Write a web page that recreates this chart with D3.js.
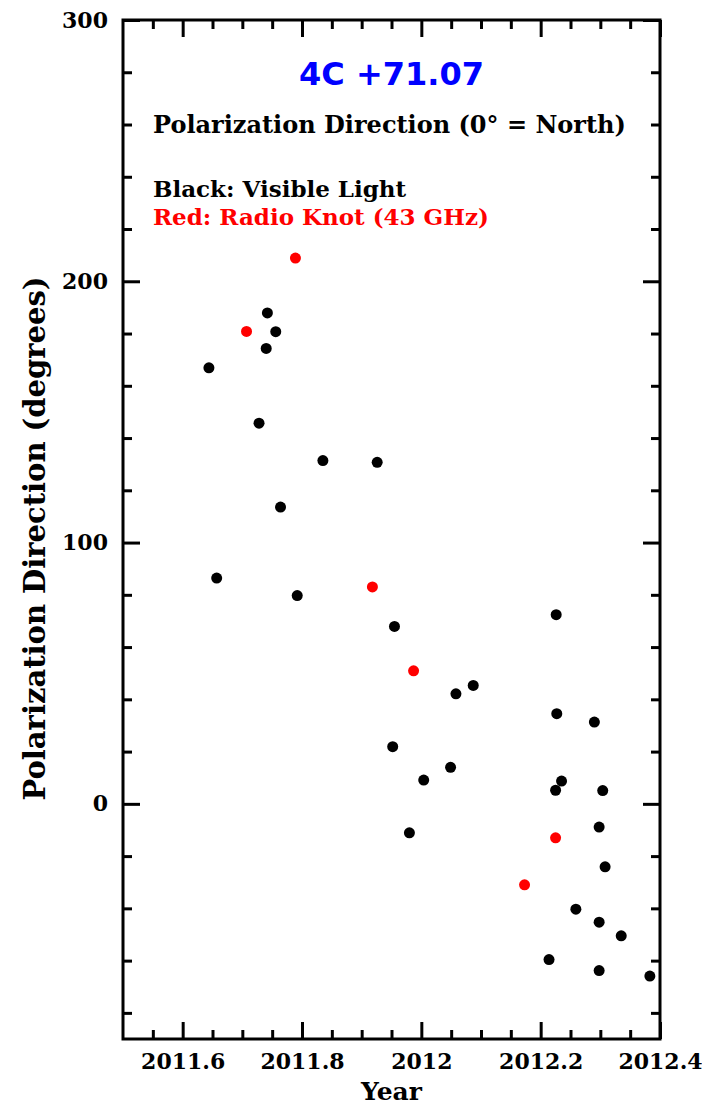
<!DOCTYPE html>
<html>
<meta charset="utf-8">
<style>
body {
	margin: 0;
	background: white;
}

.frame {
	fill: none;
	stroke: black;
	stroke-width: 3;
}

.axis path {
	display: none;
}

.axis line {
	stroke: black;
	stroke-width: 3;
}

.axis text {
	font: bold 22px "DejaVu Serif", serif;
	fill: black;
}

.label {
	font-family: "DejaVu Serif", serif;
	font-weight: bold;
}
</style>

<body>
<svg id="chart" width="702" height="1107"></svg>

<script src="https://d3js.org/d3.v7.min.js"></script>

<script>
// optical (black) points
var visibleYear = [2011.644, 2011.657, 2011.728, 2011.740, 2011.742, 2011.756, 2011.764, 2011.792,
	2011.835, 2011.926, 2011.952, 2011.955, 2011.980, 2012.004, 2012.049, 2012.058, 2012.087,
	2012.214, 2012.225, 2012.226, 2012.227, 2012.235, 2012.259, 2012.290, 2012.298, 2012.298,
	2012.298, 2012.304, 2012.308, 2012.335, 2012.383];
var visibleAngle = [166.9, 86.4, 145.7, 174.3, 187.9, 180.7, 113.6, 79.7,
	131.4, 130.7, 21.9, 67.9, -11.1, 9.1, 14.0, 42.1, 45.3,
	-59.6, 5.2, 72.4, 34.5, 8.7, -40.3, 31.3, -8.9, -45.3,
	-63.8, 5.1, -24.1, -50.5, -65.9];

// radio knot (red) points
var radioYear = [2011.707, 2011.789, 2011.918, 2011.987, 2012.173, 2012.225];
var radioAngle = [180.8, 208.9, 83.0, 50.9, -31.0, -13.0];

var xMajor = [2011.6, 2011.8, 2012, 2012.2, 2012.4];
var yMajor = [0, 100, 200, 300];

var pLeft = 123, pRight = 660, pTop = 20, pBottom = 1039;

var svg = d3.select("#chart");

var x = d3.scaleLinear()
	.domain([2011.5, 2012.4])
	.range([pLeft, pRight]);

var y = d3.scaleLinear()
	.domain([-90, 300])
	.range([pBottom, pTop]);

var xMinor = d3.range(2011.55, 2012.4, 0.05).filter(function(d) {
	return xMajor.every(function(m) { return Math.abs(m - d) > 1e-6; });
});
var yMinor = d3.range(-80, 300, 20).filter(function(d) { return d % 100 != 0; });

// minor ticks on all four sides
svg.append("g").attr("class", "axis")
	.attr("transform", "translate(0," + pBottom + ")")
	.call(d3.axisBottom(x).tickValues(xMinor).tickSize(-9).tickFormat(""));
svg.append("g").attr("class", "axis")
	.attr("transform", "translate(0," + pTop + ")")
	.call(d3.axisTop(x).tickValues(xMinor).tickSize(-9).tickFormat(""));
svg.append("g").attr("class", "axis")
	.attr("transform", "translate(" + pLeft + ",0)")
	.call(d3.axisLeft(y).tickValues(yMinor).tickSize(-9).tickFormat(""));
svg.append("g").attr("class", "axis")
	.attr("transform", "translate(" + pRight + ",0)")
	.call(d3.axisRight(y).tickValues(yMinor).tickSize(-9).tickFormat(""));

// major ticks with labels
svg.append("g").attr("class", "axis")
	.attr("transform", "translate(0," + pBottom + ")")
	.call(d3.axisBottom(x).tickValues(xMajor).tickSize(-17).tickPadding(14)
		.tickFormat(function(d) { return d3.format("")(+d.toFixed(1)); }));
svg.append("g").attr("class", "axis")
	.attr("transform", "translate(0," + pTop + ")")
	.call(d3.axisTop(x).tickValues(xMajor).tickSize(-17).tickFormat(""));
svg.append("g").attr("class", "axis")
	.attr("transform", "translate(" + pLeft + ",0)")
	.call(d3.axisLeft(y).tickValues(yMajor).tickSize(-17).tickPadding(15));
svg.append("g").attr("class", "axis")
	.attr("transform", "translate(" + pRight + ",0)")
	.call(d3.axisRight(y).tickValues(yMajor).tickSize(-17).tickFormat(""));

svg.append("rect")
	.attr("class", "frame")
	.attr("x", pLeft)
	.attr("y", pTop)
	.attr("width", pRight - pLeft)
	.attr("height", pBottom - pTop);

svg.append("g")
	.selectAll("circle")
	.data(d3.range(visibleYear.length))
	.enter().append("circle")
	.attr("cx", function(i) { return x(visibleYear[i]); })
	.attr("cy", function(i) { return y(visibleAngle[i]); })
	.attr("r", 5.5)
	.attr("fill", "black");

svg.append("g")
	.selectAll("circle")
	.data(d3.range(radioYear.length))
	.enter().append("circle")
	.attr("cx", function(i) { return x(radioYear[i]); })
	.attr("cy", function(i) { return y(radioAngle[i]); })
	.attr("r", 5.5)
	.attr("fill", "#ff0000");

// titles and annotations
svg.append("text")
	.attr("x", (pLeft + pRight) / 2)
	.attr("y", 85)
	.attr("text-anchor", "middle")
	.attr("fill", "#0000ff")
	.style("font", "bold 32px 'DejaVu Sans', sans-serif")
	.text("4C +71.07");

svg.append("text")
	.attr("class", "label")
	.attr("x", 153)
	.attr("y", 133)
	.style("font-size", "24px")
	.text("Polarization Direction (0° = North)");

svg.append("text")
	.attr("class", "label")
	.attr("x", 153)
	.attr("y", 197)
	.style("font-size", "23px")
	.text("Black: Visible Light");

svg.append("text")
	.attr("class", "label")
	.attr("x", 153)
	.attr("y", 225)
	.attr("fill", "#ff0000")
	.style("font-size", "23px")
	.text("Red: Radio Knot (43 GHz)");

svg.append("text")
	.attr("class", "label")
	.attr("transform", "translate(45," + (280 + 797) / 2 + ") rotate(-90)")
	.attr("text-anchor", "middle")
	.style("font-size", "29px")
	.text("Polarization Direction (degrees)");

svg.append("text")
	.attr("class", "label")
	.attr("x", (pLeft + pRight) / 2)
	.attr("y", 1100)
	.attr("text-anchor", "middle")
	.style("font-size", "25px")
	.text("Year");
</script>
</body>
</html>
